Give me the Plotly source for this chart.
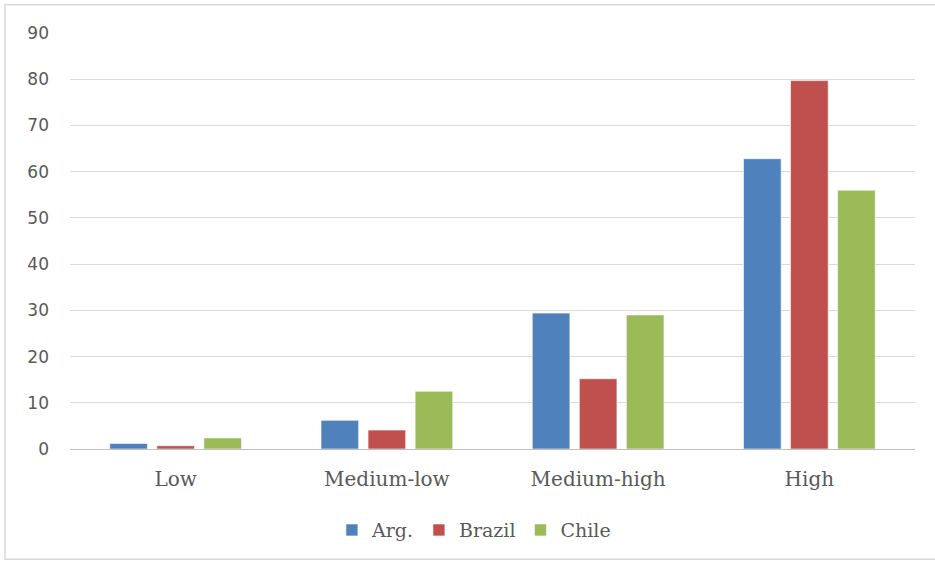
import plotly.graph_objects as go

categories = ["Low", "Medium-low", "Medium-high", "High"]
series_names = ["Arg.", "Brazil", "Chile"]
arg = [1.2, 6.2, 29.4, 62.8]
brazil = [0.7, 4.1, 15.2, 79.7]
chile = [2.4, 12.5, 29.0, 56.0]
colors = ["#4F81BD", "#C0504D", "#9BBB59"]
y_ticks = [0, 10, 20, 30, 40, 50, 60, 70, 80, 90]

fig = go.Figure()
for name, vals, col in zip(series_names, [arg, brazil, chile], colors):
    fig.add_trace(go.Bar(
        x=categories, y=vals, name=name,
        marker=dict(color=col, line=dict(color="rgba(255,255,255,0.6)", width=1)),
    ))

fig.update_layout(
    width=935, height=564,
    margin=dict(l=70, r=20, t=32.5, b=114.5),
    paper_bgcolor="white", plot_bgcolor="white",
    barmode="group", bargap=0.332, bargroupgap=0.2,
    showlegend=True,
    legend=dict(orientation="h", x=0.478, xanchor="center", y=-0.195, yanchor="middle",
                font=dict(family="DejaVu Serif, serif", size=19, color="#595959"),
                itemwidth=30, tracegroupgap=0),
    xaxis=dict(showgrid=False, ticks="", showline=False, zeroline=False,
               ticklabelstandoff=16,
               tickfont=dict(family="DejaVu Serif, serif", size=20, color="#595959")),
    yaxis=dict(range=[0, 90], tickvals=y_ticks, showgrid=True, gridcolor="#D9D9D9",
               gridwidth=1, zeroline=True, zerolinecolor="#BFBFBF", zerolinewidth=1,
               ticks="", ticklabelstandoff=20,
               tickfont=dict(family="DejaVu Sans", size=17, color="#595959")),
    shapes=[dict(type="rect", xref="paper", yref="paper", x0=-0.077, x1=1.03, y0=-0.265, y1=1.068,
                 line=dict(color="#D9D9D9", width=1.5), fillcolor="rgba(0,0,0,0)", layer="below")],
)
fig.write_html("out.html")
